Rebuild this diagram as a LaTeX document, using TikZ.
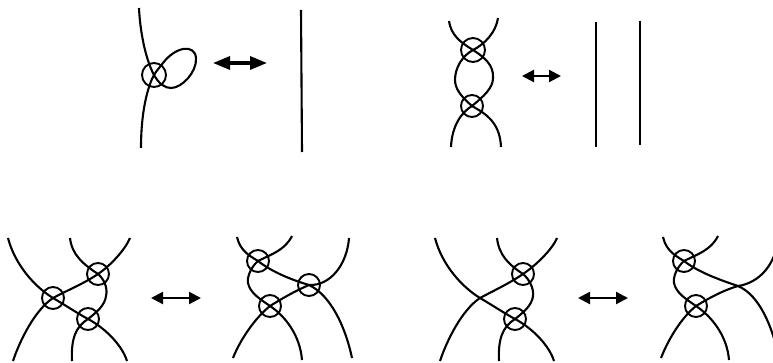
\documentclass[tikz,border=0pt]{standalone}
\usetikzlibrary{arrows.meta}
\tikzset{
  xover/.style={circle,draw=black,line width=1.9pt,inner sep=0pt,outer sep=0pt,minimum size=#1},
  xover/.default=22pt,
  strand/.style={line width=2.1pt,black,line cap=butt},
  biga/.style={line width=3.2pt,{Triangle[length=17pt,width=13pt]}-{Triangle[length=17pt,width=13pt]}},
  mida/.style={line width=2.2pt,{Triangle[length=12pt,width=12pt]}-{Triangle[length=12pt,width=12pt]}}
}
\begin{document}
\begin{tikzpicture}[x=1pt,y=-1pt]
\useasboundingbox (0,0) rectangle (773,363);
\clip (0,0) rectangle (773,363);
% --- top left
\node[xover=24pt] (k1) at (154,75) {};
\coordinate (k1a) at (139,8); \coordinate (k1b) at (141,148);
\draw[strand] (k1a) .. controls (140,30) and (145,58) .. (k1.center)
  .. controls (159,84) and (165,88) .. (171,88)
  .. controls (182,88) and (197,72) .. (196,58)
  .. controls (195,44) and (176,46) .. (163,63)
  .. controls (160,67) and (157,70) .. (k1.center)
  .. controls (150,82) and (141,105) .. (k1b);
\coordinate (a1l) at (213,63); \coordinate (a1r) at (267,63);
\draw[biga] (a1l) -- (a1r);
\coordinate (v1t) at (301,10); \coordinate (v1b) at (302,152);
\draw[strand] (v1t) -- (v1b);
% --- top right
\node[xover=24pt] (k2) at (473,50) {};
\node[xover=22pt] (k3) at (472,106) {};
\coordinate (t1) at (449,21); \coordinate (t2) at (451,147);
\coordinate (t3) at (498,18); \coordinate (t4) at (501,147);
\draw[strand] (t1) .. controls (451,35) and (460,42) .. (k2.center)
  .. controls (484,57) and (494,65) .. (493,78)
  .. controls (493,88) and (484,96) .. (k3.center)
  .. controls (462,112) and (452,125) .. (t2);
\draw[strand] (t3) .. controls (496,32) and (485,44) .. (k2.center)
  .. controls (462,56) and (455,68) .. (455,80)
  .. controls (455,90) and (463,98) .. (k3.center)
  .. controls (482,112) and (500,120) .. (t4);
\coordinate (a2l) at (522,76); \coordinate (a2r) at (561,76);
\draw[mida] (a2l) -- (a2r);
\coordinate (v2t) at (596,22); \coordinate (v2b) at (596,147);
\draw[strand] (v2t) -- (v2b);
\coordinate (v3t) at (640,21); \coordinate (v3b) at (640,145);
\draw[strand] (v3t) -- (v3b);
% --- bottom 1
\node[xover] (b1) at (53,298) {};
\node[xover] (b2) at (98,274) {};
\node[xover] (b3) at (88,319) {};
\coordinate (p1) at (8,238); \coordinate (p2) at (127,361);
\coordinate (p3) at (13,361); \coordinate (p4) at (130,238);
\coordinate (p5) at (70,238); \coordinate (p6) at (72,361);
\draw[strand] (p1) .. controls (15,265) and (35,287) .. (b1.center)
  .. controls (65,305) and (77,313) .. (b3.center)
  .. controls (105,328) and (122,345) .. (p2);
\draw[strand] (p3) .. controls (20,340) and (35,310) .. (b1.center)
  .. controls (68,290) and (85,283) .. (b2.center)
  .. controls (110,266) and (125,250) .. (p4);
\draw[strand] (p5) .. controls (72,255) and (83,264) .. (b2.center)
  .. controls (104,279) and (108,288) .. (106,296)
  .. controls (105,305) and (97,312) .. (b3.center)
  .. controls (75,327) and (71,340) .. (p6);
\coordinate (a3l) at (151,298); \coordinate (a3r) at (201,298);
\draw[mida] (a3l) -- (a3r);
% --- bottom 2
\node[xover] (c1) at (258,261) {};
\node[xover] (c2) at (309,285) {};
\node[xover] (c3) at (270,306) {};
\coordinate (q1) at (237,237); \coordinate (q2) at (352,358);
\coordinate (q3) at (292,236); \coordinate (q4) at (302,360);
\coordinate (q5) at (233,358); \coordinate (q6) at (349,238);
\draw[strand] (q1) .. controls (240,250) and (248,255) .. (c1.center)
  .. controls (272,272) and (292,280) .. (c2.center)
  .. controls (330,295) and (345,325) .. (q2);
\draw[strand] (q3) .. controls (285,250) and (272,254) .. (c1.center)
  .. controls (250,268) and (247,278) .. (248,283)
  .. controls (250,293) and (260,299) .. (c3.center)
  .. controls (285,316) and (300,335) .. (q4);
\draw[strand] (q5) .. controls (240,340) and (255,318) .. (c3.center)
  .. controls (283,298) and (295,291) .. (c2.center)
  .. controls (330,286) and (347,265) .. (q6);
\coordinate (a4l) at (578,298); \coordinate (a4r) at (628,298);
\draw[mida] (a4l) -- (a4r);
% --- bottom 3
\node[xover] (d2) at (523,274) {};
\node[xover] (d3) at (515,319) {};
\coordinate (dx) at (480,298);
\coordinate (r1) at (435,238); \coordinate (r2) at (554,361);
\coordinate (r3) at (440,361); \coordinate (r4) at (557,238);
\coordinate (r5) at (497,238); \coordinate (r6) at (499,361);
\draw[strand] (r1) .. controls (442,265) and (462,287) .. (dx)
  .. controls (492,305) and (504,313) .. (d3.center)
  .. controls (532,328) and (549,345) .. (r2);
\draw[strand] (r3) .. controls (447,340) and (462,310) .. (dx)
  .. controls (495,290) and (510,283) .. (d2.center)
  .. controls (535,266) and (552,250) .. (r4);
\draw[strand] (r5) .. controls (499,255) and (508,264) .. (d2.center)
  .. controls (529,279) and (534,288) .. (533,296)
  .. controls (532,305) and (524,312) .. (d3.center)
  .. controls (502,327) and (498,340) .. (r6);
% --- bottom 4
\node[xover] (e1) at (684,261) {};
\node[xover] (e3) at (696,306) {};
\coordinate (ex) at (738,286);
\coordinate (s1) at (663,237); \coordinate (s2) at (779,358);
\coordinate (s3) at (718,236); \coordinate (s4) at (729,360);
\coordinate (s5) at (661,358); \coordinate (s6) at (778,240);
\draw[strand] (s1) .. controls (666,250) and (674,255) .. (e1.center)
  .. controls (698,272) and (720,280) .. (ex)
  .. controls (759,295) and (772,325) .. (s2);
\draw[strand] (s3) .. controls (711,250) and (698,254) .. (e1.center)
  .. controls (676,268) and (673,278) .. (674,283)
  .. controls (676,293) and (686,299) .. (e3.center)
  .. controls (711,316) and (727,335) .. (s4);
\draw[strand] (s5) .. controls (668,340) and (681,318) .. (e3.center)
  .. controls (709,298) and (724,290) .. (ex)
  .. controls (759,283) and (775,265) .. (s6);
\end{tikzpicture}
\end{document}
